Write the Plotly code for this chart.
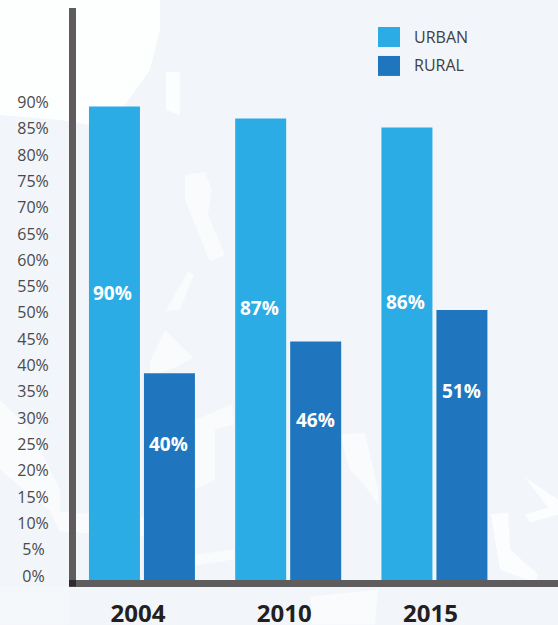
import plotly.graph_objects as go

years = ["2004", "2010", "2015"]
urban_bars = [90, 87.7, 86]
rural_bars = [39.3, 45.3, 51.3]
urban_labels = ["90%", "87%", "86%"]
rural_labels = ["40%", "46%", "51%"]
tick_vals = list(range(0, 95, 5))

URBAN = "#2BACE4"
RURAL = "#1F76BE"
AXIS = "#5F5C5E"

W, H = 558, 625
LEFT, BOTTOM, TOP = 76, 580.5, 8


def px(x):
    return (x - LEFT) / (W - LEFT)


def py(y):
    return (BOTTOM - y) / (BOTTOM - TOP)


def blob(points, colour="#F9FBFD"):
    # pale map shapes behind the chart, given in page pixels
    d = "M" + "L".join(f"{px(x):.4f},{py(y):.4f}" for x, y in points) + "Z"
    return dict(type="path", path=d, xref="paper", yref="paper", layer="below",
                fillcolor=colour, line_width=0)


fig = go.Figure()
fig.add_trace(go.Bar(x=years, y=urban_bars, name="URBAN", marker_color=URBAN, marker_line_width=0))
fig.add_trace(go.Bar(x=years, y=rural_bars, name="RURAL", marker_color=RURAL, marker_line_width=0))

# white patches of the faded map
shapes = [
    blob([(0, 0), (160, 0), (160, 30), (150, 70), (125, 105), (90, 125), (60, 120), (0, 115)], "#FDFEFE"),
    blob([(166, 72), (180, 72), (180, 115), (166, 110)], "#FCFDFE"),
    blob([(185, 175), (205, 172), (212, 190), (208, 215), (225, 255), (210, 262), (195, 225), (185, 200)]),
    blob([(188, 272), (194, 275), (180, 310), (165, 312)]),
    blob([(150, 362), (165, 330), (193, 358), (175, 368), (150, 376)]),
    blob([(195, 420), (232, 405), (234, 425), (215, 430), (215, 480), (195, 490)]),
    blob([(0, 400), (30, 430), (60, 490), (60, 520), (0, 470)]),
    blob([(50, 512), (195, 520), (195, 540), (60, 532)]),
    blob([(195, 555), (234, 550), (234, 560), (195, 566)]),
    blob([(341, 435), (365, 433), (378, 490), (378, 505), (360, 480), (350, 470), (345, 455)]),
    blob([(491, 515), (508, 513), (510, 550), (538, 575), (535, 583), (500, 570)], "#FCFDFE"),
    blob([(525, 478), (558, 500), (558, 515), (530, 523), (525, 515), (548, 508)], "#FCFDFE"),
    blob([(311, 597), (378, 590), (375, 625), (311, 625)]),
    blob([(0, 587), (69, 587), (69, 625), (0, 625)], "#F5F8FB"),
    # darker corner where the two axis lines overlap
    dict(type="rect", xref="paper", yref="paper", layer="above",
         x0=px(69), x1=px(76), y0=py(587), y1=py(580.5),
         fillcolor="#2F2B2C", line_width=0),
]

# legend
for i, (name, colour) in enumerate([("URBAN", URBAN), ("RURAL", RURAL)]):
    top = 27 + i * 29
    shapes.append(dict(type="rect", xref="paper", yref="paper",
                       x0=px(378), x1=px(400), y0=py(top + 20), y1=py(top),
                       fillcolor=colour, line_width=0))

annotations = []
for i, name in enumerate(["URBAN", "RURAL"]):
    annotations.append(dict(x=px(412), y=py(37 + i * 28.5), xref="paper", yref="paper",
                            text=name, showarrow=False, xanchor="left", yanchor="middle",
                            font=dict(family="Open Sans", size=16, color="#3F3F3F")))

# bar labels sit at hand placed heights, not in the bar centres
urban_levels = [54.5, 51.6, 52.8]
rural_levels = [25.8, 30.4, 35.9]
for i, (txt, lvl) in enumerate(zip(urban_labels, urban_levels)):
    annotations.append(dict(x=i, y=lvl, text=txt, showarrow=False, xshift=-29,
                            font=dict(family="Open Sans", size=19, color="white", weight="bold")))
for i, (txt, lvl) in enumerate(zip(rural_labels, rural_levels)):
    annotations.append(dict(x=i, y=lvl, text=txt, showarrow=False, xshift=27,
                            font=dict(family="Open Sans", size=19, color="white", weight="bold")))

# ticks are centred against each other in the original, nbsp pads the short ones
tick_text = [f"{v}%" if v >= 10 else f"{v}%\u00a0" for v in tick_vals]

fig.update_layout(
    width=W, height=H,
    margin=dict(l=LEFT, r=0, t=TOP, b=H - BOTTOM, autoexpand=False),
    paper_bgcolor="#F2F5FA",
    plot_bgcolor="rgba(0,0,0,0)",
    barmode="group",
    bargap=0.248,
    bargroupgap=0.0727,
    showlegend=False,
    shapes=shapes,
    annotations=annotations,
    xaxis=dict(
        type="category",
        range=[-0.451, 2.845],
        showgrid=False,
        showline=True,
        linecolor=AXIS,
        linewidth=7,
        ticks="",
        ticklabelstandoff=6,
        ticklabelshift=-4,
        tickfont=dict(family="Open Sans", size=24, color="#231F20", weight="bold"),
    ),
    yaxis=dict(
        range=[0, (BOTTOM - TOP) / 5.267],
        showgrid=False,
        zeroline=False,
        showline=True,
        linecolor=AXIS,
        linewidth=7,
        ticks="",
        tickmode="array",
        tickvals=tick_vals,
        ticktext=tick_text,
        ticklabelstandoff=17,
        ticklabelshift=-4,
        tickfont=dict(family="Open Sans", size=16, color="#4A4A4A"),
    ),
)

fig.write_html("out.html", config={"displayModeBar": False},
               post_script="document.body.style.margin='0';")
